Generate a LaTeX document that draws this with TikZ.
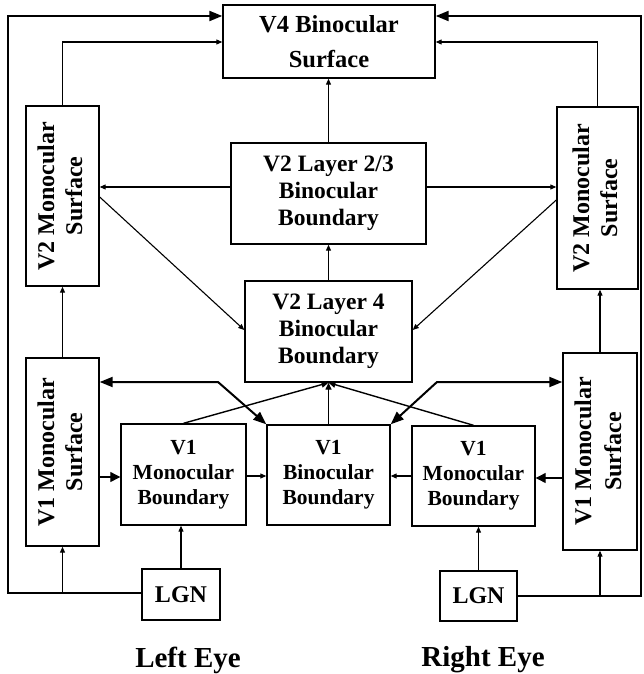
\documentclass[tikz,border=0pt]{standalone}
\usepackage{fontspec}
\setmainfont{Liberation Serif}
\usepackage{graphicx}
\usetikzlibrary{arrows.meta}
\begin{document}
\begin{tikzpicture}[x=1pt,y=-1pt,
  box/.style={draw, line width=1.4pt, rectangle, inner sep=0pt, align=center},
  fv/.style={font=\bfseries\fontsize{24.5}{35}\selectfont},
  ftwo/.style={font=\bfseries\fontsize{23.5}{27}\selectfont},
  fone/.style={font=\bfseries\fontsize{21.5}{25}\selectfont},
  fvert/.style={font=\bfseries\fontsize{24}{28}\selectfont},
  feye/.style={font=\bfseries\fontsize{29}{32}\selectfont},
  thinarr/.style={line width=1.1pt, -{Triangle[length=6pt,width=5pt]}},
  convarr/.style={line width=1.4pt, -{Triangle[length=7pt,width=6pt]}},
  medarr/.style={line width=1.2pt, -{Triangle[length=10pt,width=10pt]}},
  bigarr/.style={line width=2.2pt, -{Triangle[length=13pt,width=10pt]}},
  dblarr/.style={line width=2pt, {Triangle[length=13pt,width=10pt]}-{Triangle[length=13pt,width=10pt]}}
]
\useasboundingbox (0,0) rectangle (643,674);

% nodes
\node[box, fv, minimum width=212pt, minimum height=73pt] (v4) at (329,41.5) {V4 Binocular\\Surface};
\node[box, ftwo, minimum width=195pt, minimum height=101pt] (l23) at (328.5,193.5) {V2 Layer 2/3\\Binocular\\Boundary};
\node[box, ftwo, minimum width=167pt, minimum height=101pt] (l4) at (328.5,331.5) {V2 Layer 4\\Binocular\\Boundary};
\node[box, fvert, minimum width=73pt, minimum height=180pt] (v2L) at (62.5,196) {\rotatebox{90}{\begin{tabular}{@{}c@{}}V2 Monocular\\Surface\end{tabular}}};
\node[box, fvert, minimum width=81pt, minimum height=182pt] (v2R) at (597.5,198) {\rotatebox{90}{\begin{tabular}{@{}c@{}}V2 Monocular\\Surface\end{tabular}}};
\node[box, fvert, minimum width=73pt, minimum height=188pt] (v1L) at (62.5,452) {\rotatebox{90}{\begin{tabular}{@{}c@{}}V1 Monocular\\Surface\end{tabular}}};
\node[box, font=\bfseries\fontsize{24}{30}\selectfont, minimum width=74pt, minimum height=197pt] (v1R) at (600,451.5) {\rotatebox{90}{\begin{tabular}{@{}c@{}}V1 Monocular\\Surface\end{tabular}}};
\node[box, fone, minimum width=125pt, minimum height=101pt] (mbL) at (183.5,474.5) {V1\\Monocular\\Boundary};
\node[box, fone, minimum width=123pt, minimum height=100pt] (bb) at (328.5,475) {V1\\Binocular\\Boundary};
\node[box, fone, minimum width=123pt, minimum height=100pt] (mbR) at (473.5,476) {V1\\Monocular\\Boundary};
\node[box, fvert, minimum width=78pt, minimum height=51pt] (lgnL) at (181,594.5) {LGN};
\node[box, fvert, minimum width=77pt, minimum height=50pt] (lgnR) at (478.5,596) {LGN};
\node[feye, inner sep=0pt] (le) at (188,660) {Left Eye};
\node[feye, inner sep=0pt] (re) at (483,660) {Right Eye};

% helper coordinates
\coordinate (tl) at (8,16);
\coordinate (bl) at (8,593);
\coordinate (tr) at (641,16);
\coordinate (br) at (641,596);
\coordinate (y42) at (0,42);
\coordinate (h23) at (0,187);
\coordinate (d1) at (0,197);
\coordinate (d2) at (0,330);
\coordinate (d3) at (0,200);
\coordinate (kl) at (218,382);
\coordinate (kr) at (437,382);
\coordinate (r1) at (0,477);
\coordinate (r2) at (0,476);
\coordinate (r3) at (0,478);

% outer loops
\draw[bigarr] (lgnL.west |- bl) -- (bl) -- (tl) -- (v4.west |- tl);
\draw[thinarr] (v1L.south |- bl) -- (v1L.south);
\draw[thinarr] (v2L.north) |- (v4.west |- y42);
\draw[bigarr] (lgnR.east |- br) -- (br) -- (tr) -- (v4.east |- tr);
\draw[thinarr] (v1R.south |- br) -- (v1R.south);
\draw[thinarr] (v2R.north) |- (v4.east |- y42);

% middle column
\draw[thinarr] (l23.north) -- (l23.north |- v4.south);
\draw[thinarr] (l23.west |- h23) -- (v2L.east |- h23);
\draw[thinarr] (l23.east |- h23) -- (v2R.west |- h23);
\draw[thinarr] (v2L.east |- d1) -- (l4.west |- d2);
\draw[thinarr] (v2R.west |- d3) -- (l4.east |- d2);
\draw[thinarr] (l4.north) -- (l4.north |- l23.south);
\draw[convarr] (bb.north) -- (bb.north |- l4.south);
\draw[convarr] (mbL.north) -- (l4.south);
\draw[convarr] (mbR.north) -- (l4.south);

% crossing double arrows
\draw[dblarr] (v1L.east |- kl) -- (kl) -- (bb.north west);
\draw[dblarr] (v1R.west |- kr) -- (kr) -- (bb.north east);

% V1 row
\draw[medarr] (v1L.east |- r1) -- (mbL.west |- r1);
\draw[thinarr] (mbL.east |- r2) -- (bb.west |- r2);
\draw[thinarr] (mbR.west |- r2) -- (bb.east |- r2);
\draw[medarr] (v1R.west |- r3) -- (mbR.east |- r3);
\draw[thinarr] (lgnL.north) -- (lgnL.north |- mbL.south);
\draw[thinarr] (lgnR.north) -- (lgnR.north |- mbR.south);
\draw[thinarr] (v1L.north) -- (v1L.north |- v2L.south);
\draw[thinarr] (v1R.north) -- (v1R.north |- v2R.south);
\end{tikzpicture}
\end{document}
